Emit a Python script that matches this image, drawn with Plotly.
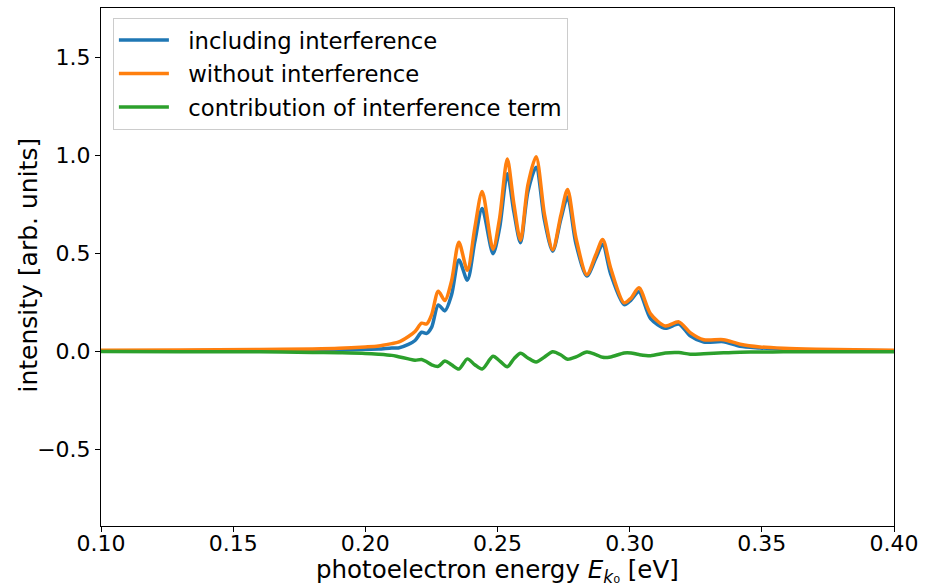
import plotly.graph_objects as go

# photoelectron energy [eV]
energy = [0.100, 0.130, 0.160, 0.180, 0.190, 0.200, 0.205, 0.210, 0.2125, 0.2163,
          0.2188, 0.2213, 0.2232, 0.2251, 0.2276, 0.2301, 0.2326, 0.2354, 0.2386, 0.2414,
          0.2442, 0.2483, 0.2508, 0.2537, 0.2562, 0.2587, 0.2615, 0.2646, 0.2678, 0.2709,
          0.2740, 0.2765, 0.2797, 0.2838, 0.2872, 0.2898, 0.2928, 0.2979, 0.3005, 0.3035,
          0.3079, 0.3135, 0.3186, 0.3229, 0.3280, 0.3355, 0.3418, 0.3493, 0.3581, 0.3706,
          0.385, 0.400]

including = [0.002, 0.002, 0.004, 0.004, 0.005, 0.009, 0.010, 0.016, 0.016, 0.034,
             0.054, 0.096, 0.090, 0.122, 0.235, 0.205, 0.286, 0.465, 0.362, 0.557,
             0.727, 0.497, 0.628, 0.905, 0.710, 0.553, 0.813, 0.938, 0.665, 0.510,
             0.675, 0.786, 0.546, 0.383, 0.474, 0.545, 0.394, 0.237, 0.260, 0.303,
             0.166, 0.116, 0.138, 0.078, 0.046, 0.048, 0.024, 0.016, 0.010, 0.005,
             0.003, 0.002]

without = [0.004, 0.005, 0.008, 0.011, 0.014, 0.021, 0.026, 0.038, 0.045, 0.074,
           0.100, 0.142, 0.138, 0.186, 0.305, 0.258, 0.356, 0.555, 0.412, 0.627,
           0.815, 0.520, 0.678, 0.980, 0.750, 0.566, 0.848, 0.992, 0.695, 0.517,
           0.695, 0.825, 0.576, 0.390, 0.492, 0.570, 0.424, 0.246, 0.270, 0.323,
           0.190, 0.128, 0.149, 0.094, 0.058, 0.058, 0.035, 0.021, 0.014, 0.009,
           0.006, 0.004]

interference = [-0.002, -0.003, -0.004, -0.007, -0.009, -0.012, -0.016, -0.022, -0.029, -0.040,
                -0.047, -0.043, -0.055, -0.070, -0.078, -0.051, -0.070, -0.092, -0.040, -0.070,
                -0.092, -0.027, -0.050, -0.080, -0.040, -0.011, -0.035, -0.056, -0.030, -0.004,
                -0.020, -0.042, -0.030, -0.005, -0.018, -0.032, -0.030, -0.010, -0.010, -0.018,
                -0.024, -0.010, -0.008, -0.016, -0.014, -0.009, -0.006, -0.005, -0.004, -0.004,
                -0.004, -0.004]

series_names = ["including interference", "without interference",
                "contribution of interference term"]
series_values = [including, without, interference]
series_colors = ["#1f77b4", "#ff7f0e", "#2ca02c"]

x_title = "photoelectron energy <i>E</i><sub><i>k</i>\u2080</sub> [eV]"
y_title = "intensity [arb. units]"

fig = go.Figure()
for i, (name, vals, color) in enumerate(zip(series_names, series_values, series_colors)):
    fig.add_trace(go.Scatter(
        x=energy, y=vals, name="\u00a0\u00a0" + name, mode="lines",
        line=dict(color=color, width=3.5, shape="spline", smoothing=0.8),
        legendgroup=f"g{i}",
    ))

axis_common = dict(
    showline=True, linecolor="black", linewidth=1, mirror=True,
    ticks="outside", ticklen=5, tickwidth=1, tickcolor="black",
    showgrid=False, zeroline=False,
    tickfont=dict(family="DejaVu Sans", size=22, color="black"),
)

fig.update_layout(
    width=925, height=586,
    margin=dict(l=101, r=27, t=7, b=60),
    paper_bgcolor="white", plot_bgcolor="white",
    font=dict(family="DejaVu Sans", color="black"),
    xaxis=dict(range=[0.10, 0.40], dtick=0.05, tick0=0.10, tickformat=".2f",
               ticklabelstandoff=-7, **axis_common),
    yaxis=dict(range=[-0.893, 1.751], dtick=0.5, tick0=0, tickformat=".1f",
               **axis_common),
    legend=dict(x=0.015, y=0.981, xanchor="left", yanchor="top",
                bgcolor="rgba(255,255,255,0.8)", bordercolor="#cccccc", borderwidth=1,
                font=dict(family="DejaVu Sans", size=22.7, color="black"),
                tracegroupgap=1, itemwidth=50),
    showlegend=True,
    annotations=[
        dict(text=x_title, xref="paper", yref="paper", x=0.5, y=-0.087,
             xanchor="center", yanchor="middle", showarrow=False,
             font=dict(family="DejaVu Sans", size=24.5, color="black")),
        dict(text=y_title, xref="paper", yref="paper", x=-0.092, y=0.503,
             xanchor="center", yanchor="middle", showarrow=False, textangle=-90,
             font=dict(family="DejaVu Sans", size=25, color="black")),
    ],
)

fig.write_html("out.html")
